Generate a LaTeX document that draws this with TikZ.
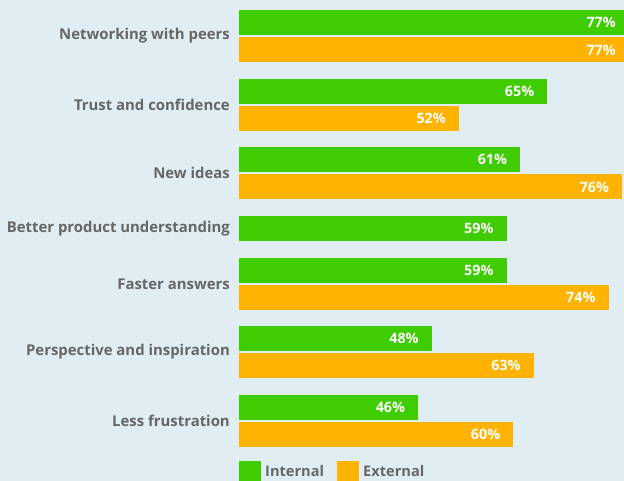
\documentclass[tikz,border=0pt]{standalone}
\usepackage{fontspec}
\setmainfont{Open Sans}
\usepackage{tikz}
\usetikzlibrary{positioning}

\definecolor{bgblue}{HTML}{E0EDF2}
\definecolor{intgreen}{HTML}{3FCC00}
\definecolor{extorange}{HTML}{FFB300}
\definecolor{labelgray}{HTML}{666666}

\tikzset{
  internal/.style={fill=intgreen},
  external/.style={fill=extorange},
  category/.style={anchor=east, inner sep=0pt, text=labelgray, font=\bfseries\fontsize{14.9}{16}\selectfont},
  value/.style={anchor=east, inner sep=0pt, text=white, font=\bfseries\fontsize{14.3}{16}\selectfont},
  legendtext/.style={anchor=west, inner sep=0pt, text=labelgray, font=\bfseries\fontsize{14.6}{16}\selectfont}
}

% bar: style, top, percent, name of its label
\newcommand{\drawbar}[4]{%
  \fill[#1] (239,#2) rectangle ({239+6.8*(#3-19.65)},#2+25);
  \node[value] (#4) at ({239+6.8*(#3-19.65)-13},#2+12.5) {#3\%};
}

\begin{document}
\begin{tikzpicture}[x=1pt,y=-1pt]
    \fill[bgblue] (0,0) rectangle (624,481);
    \clip (0,0) rectangle (624,481);
    %categories
    \node[category] (peers) at (230,36) {Networking with peers};
    \node[category] (trust) at (230,105) {Trust and confidence};
    \node[category] (ideas) at (230,173) {New ideas};
    \node[category] (product) at (230,228.5) {Better product understanding};
    \node[category] (faster) at (230,284) {Faster answers};
    \node[category] (inspiration) at (230,352) {Perspective and inspiration};
    \node[category] (frustration) at (230,421) {Less frustration};
    %bars
    \drawbar{internal}{10}{77}{peersint}
    \drawbar{external}{37.5}{77}{peersext}
    \drawbar{internal}{79}{65}{trustint}
    \drawbar{external}{106}{52}{trustext}
    \drawbar{internal}{147}{61}{ideasint}
    \drawbar{external}{174.5}{76}{ideasext}
    \drawbar{internal}{216}{59}{productint}
    \drawbar{internal}{258}{59}{fasterint}
    \drawbar{external}{285}{74}{fasterext}
    \drawbar{internal}{326}{48}{inspirationint}
    \drawbar{external}{353}{63}{inspirationext}
    \drawbar{internal}{395}{46}{frustrationint}
    \drawbar{external}{422}{60}{frustrationext}
    %legend
    \fill[internal] (239,461) rectangle (261,485);
    \node[legendtext] (intlegend) at (265,471.5) {Internal};
    \fill[external] (337,461) rectangle (359,485);
    \node[legendtext] (extlegend) at (363,471.5) {External};
\end{tikzpicture}
\end{document}
